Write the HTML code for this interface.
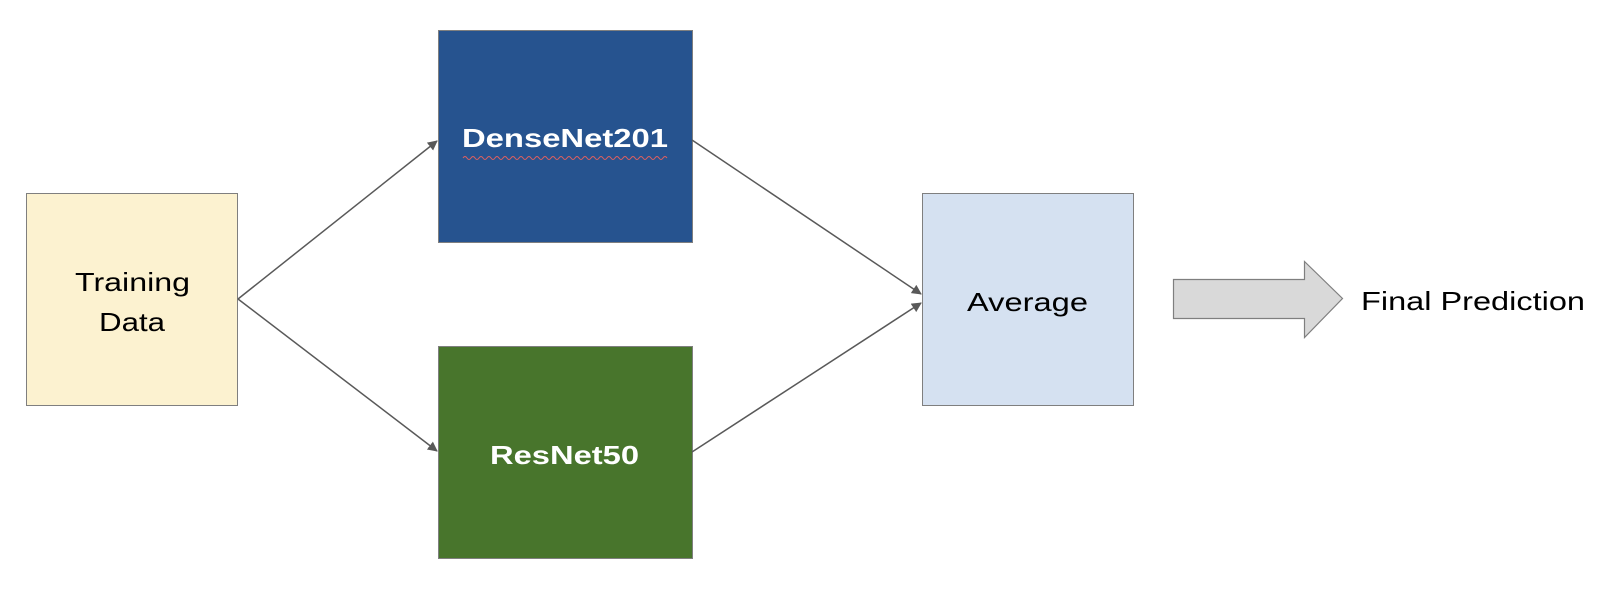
<!DOCTYPE html>
<html><head><style>
body{margin:0;background:#fff;}
</style></head><body>
<svg width="1604" height="592" xmlns="http://www.w3.org/2000/svg" style="display:block">
<defs><marker id="a" markerWidth="10" markerHeight="10" refX="9" refY="5" orient="auto" markerUnits="userSpaceOnUse"><path d="M0,0 L10,5 L0,10 z" fill="#595959"/></marker></defs>
<rect x="26.5" y="193.5" width="211" height="212" fill="#fcf2d0" stroke="#7f7f7f"/>
<rect x="438.5" y="30.5" width="254" height="212" fill="#26538f" stroke="#7f7f7f"/>
<rect x="438.5" y="346.5" width="254" height="212" fill="#48752c" stroke="#7f7f7f"/>
<rect x="922.5" y="193.5" width="211" height="212" fill="#d5e1f1" stroke="#7f7f7f"/>
<g stroke="#595959" stroke-width="1.5" fill="none" marker-end="url(#a)">
<line x1="238" y1="299" x2="437" y2="141"/>
<line x1="238" y1="299" x2="437" y2="451"/>
<line x1="692" y1="140" x2="921" y2="294"/>
<line x1="692" y1="452" x2="921" y2="303"/>
</g>
<path d="M1173.5,279.5 H1304.5 V261.5 L1342.5,298.5 L1304.5,337.5 V318.5 H1173.5 Z" fill="#d9d9d9" stroke="#7f7f7f" stroke-width="1.2"/>
<g font-family="Liberation Sans, sans-serif" font-size="26" lengthAdjust="spacingAndGlyphs">
<text x="75" y="291" fill="#000" textLength="115" lengthAdjust="spacingAndGlyphs">Training</text>
<text x="99" y="331" fill="#000" textLength="66" lengthAdjust="spacingAndGlyphs">Data</text>
<text x="462" y="147" fill="#fff" font-weight="bold" textLength="206" lengthAdjust="spacingAndGlyphs">DenseNet201</text>
<text x="490" y="464" fill="#fff" font-weight="bold" textLength="149" lengthAdjust="spacingAndGlyphs">ResNet50</text>
<text x="967" y="311" fill="#000" textLength="121" lengthAdjust="spacingAndGlyphs">Average</text>
<text x="1361" y="310" fill="#000" textLength="224" lengthAdjust="spacingAndGlyphs">Final Prediction</text>
</g>
<path d="M463,158 q2,-3 4,0 t4,0 t4,0 t4,0 t4,0 t4,0 t4,0 t4,0 t4,0 t4,0 t4,0 t4,0 t4,0 t4,0 t4,0 t4,0 t4,0 t4,0 t4,0 t4,0 t4,0 t4,0 t4,0 t4,0 t4,0 t4,0 t4,0 t4,0 t4,0 t4,0 t4,0 t4,0 t4,0 t4,0 t4,0 t4,0 t4,0 t4,0 t4,0 t4,0 t4,0 t4,0 t4,0 t4,0 t4,0 t4,0 t4,0 t4,0 t4,0 t4,0 t4,0" fill="none" stroke="#e06060" stroke-width="1"/>
</svg>
</body></html>
